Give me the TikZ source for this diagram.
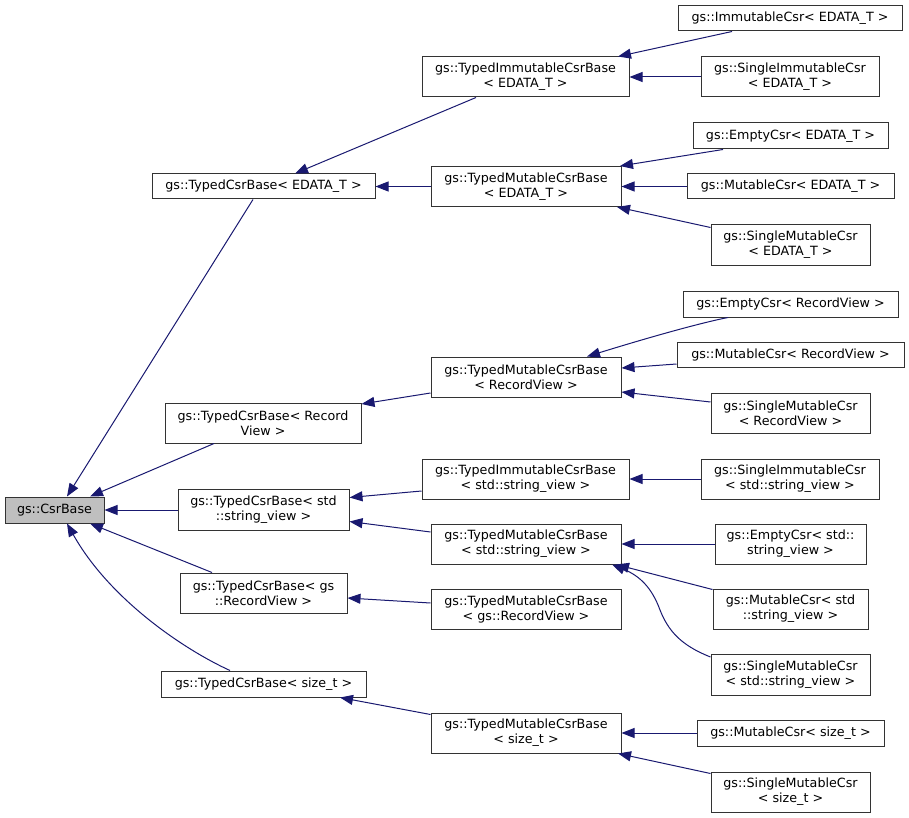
\documentclass[tikz,border=0pt]{standalone}
\usepackage{fontspec}
\setmainfont{DejaVu Sans}
\usetikzlibrary{arrows.meta}
\definecolor{edgecol}{HTML}{191970}
\definecolor{boxcol}{HTML}{333333}
\definecolor{rootfill}{HTML}{BFBFBF}
\tikzset{
  box/.style={draw=boxcol, line width=1pt, fill=white, rectangle, inner sep=0pt, align=center,
    font=\fontsize{12.7}{15}\selectfont},
  rootbox/.style={box, fill=rootfill},
  edge/.style={draw=edgecol, line width=1pt, -{Triangle[length=13pt,width=10pt]}, edgecol},
}
\begin{document}
\begin{tikzpicture}[x=1pt,y=-1pt]
\useasboundingbox (0,0) rectangle (909,818);
% column 1
\node[rootbox, minimum width=99pt, minimum height=26pt] (csr) at (54.5,510) {gs::CsrBase};
% column 2
\node[box, minimum width=223pt, minimum height=25pt] (tcbE) at (263.5,186.5) {gs::TypedCsrBase< EDATA\_T >};
\node[box, minimum width=196pt, minimum height=40pt] (tcbRV) at (263,423) {gs::TypedCsrBase< Record\\View >};
\node[box, minimum width=171pt, minimum height=41pt] (tcbSV) at (263.5,510) {gs::TypedCsrBase< std\\::string\_view >};
\node[box, minimum width=167pt, minimum height=40pt] (tcbGRV) at (263.5,593) {gs::TypedCsrBase< gs\\::RecordView >};
\node[box, minimum width=205pt, minimum height=26pt] (tcbSZ) at (263.5,684) {gs::TypedCsrBase< size\_t >};
% column 3
\node[box, minimum width=207pt, minimum height=40pt] (timE) at (525.5,77) {gs::TypedImmutableCsrBase\\< EDATA\_T >};
\node[box, minimum width=190pt, minimum height=40pt] (tmE) at (526,186.5) {gs::TypedMutableCsrBase\\< EDATA\_T >};
\node[box, minimum width=190pt, minimum height=40pt] (tmRV) at (526,377) {gs::TypedMutableCsrBase\\< RecordView >};
\node[box, minimum width=207pt, minimum height=40pt] (timSV) at (525.5,479) {gs::TypedImmutableCsrBase\\< std::string\_view >};
\node[box, minimum width=190pt, minimum height=40pt] (tmSV) at (526,544) {gs::TypedMutableCsrBase\\< std::string\_view >};
\node[box, minimum width=190pt, minimum height=40pt] (tmGRV) at (526,609) {gs::TypedMutableCsrBase\\< gs::RecordView >};
\node[box, minimum width=190pt, minimum height=40pt] (tmSZ) at (526,733) {gs::TypedMutableCsrBase\\< size\_t >};
% column 4
\node[box, minimum width=224pt, minimum height=25pt] (immE) at (790,18.5) {gs::ImmutableCsr< EDATA\_T >};
\node[box, minimum width=178pt, minimum height=40pt] (simE) at (790,77) {gs::SingleImmutableCsr\\< EDATA\_T >};
\node[box, minimum width=195pt, minimum height=26pt] (emE) at (790.5,136) {gs::EmptyCsr< EDATA\_T >};
\node[box, minimum width=207pt, minimum height=25pt] (mE) at (790.5,186.5) {gs::MutableCsr< EDATA\_T >};
\node[box, minimum width=159pt, minimum height=40pt] (smE) at (790.5,245) {gs::SingleMutableCsr\\< EDATA\_T >};
\node[box, minimum width=215pt, minimum height=26pt] (emRV) at (790.5,304) {gs::EmptyCsr< RecordView >};
\node[box, minimum width=227pt, minimum height=25pt] (mRV) at (790.5,354.5) {gs::MutableCsr< RecordView >};
\node[box, minimum width=159pt, minimum height=40pt] (smRV) at (790.5,413) {gs::SingleMutableCsr\\< RecordView >};
\node[box, minimum width=178pt, minimum height=40pt] (simSV) at (790,479) {gs::SingleImmutableCsr\\< std::string\_view >};
\node[box, minimum width=151pt, minimum height=40pt] (emSV) at (790.5,544) {gs::EmptyCsr< std::\\string\_view >};
\node[box, minimum width=155pt, minimum height=40pt] (mSV) at (790.5,609) {gs::MutableCsr< std\\::string\_view >};
\node[box, minimum width=159pt, minimum height=41pt] (smSV) at (790.5,674.5) {gs::SingleMutableCsr\\< std::string\_view >};
\node[box, minimum width=187pt, minimum height=26pt] (mSZ) at (790.5,733) {gs::MutableCsr< size\_t >};
\node[box, minimum width=159pt, minimum height=40pt] (smSZ) at (790.5,792) {gs::SingleMutableCsr\\< size\_t >};
% edges to csr
\draw[edge] ([xshift=-10.5pt]tcbE.south) -- ([xshift=12.5pt]csr.north);
\draw[edge] ([xshift=-49pt]tcbRV.south) -- ([xshift=35.5pt]csr.north);
\draw[edge] (tcbSV.west) -- (csr.east);
\draw[edge] ([xshift=-51.5pt]tcbGRV.north) -- ([xshift=35.5pt]csr.south);
\draw[edge] ([xshift=-33.5pt]tcbSZ.north) .. controls (185,650) and (110,600) .. ([xshift=12.5pt]csr.south);
% EDATA_T
\draw[edge] ([xshift=-49.5pt]timE.south) -- ([xshift=31.5pt]tcbE.north);
\draw[edge] (tmE.west) -- (tcbE.east);
\draw[edge] ([xshift=-58pt]immE.south) -- ([xshift=92.5pt]timE.north);
\draw[edge] (simE.west) -- (timE.east);
\draw[edge] ([xshift=-67.5pt]emE.south) -- ([xshift=94pt]tmE.north);
\draw[edge] (mE.west) -- (tmE.east);
\draw[edge] ([yshift=-3pt]smE.north west) -- ([xshift=91pt]tmE.south);
% RecordView
\draw[edge] ([yshift=-16pt]tmRV.west) -- ([yshift=19pt]tcbRV.east);
\draw[edge] ([xshift=-62.5pt]emRV.south) .. controls (705,322) and (660,334) .. ([xshift=61pt]tmRV.north);
\draw[edge] ([yshift=-9.5pt]mRV.west) -- ([yshift=9pt]tmRV.east);
\draw[edge] ([yshift=11pt]smRV.west) -- ([yshift=-15pt]tmRV.east);
% string_view
\draw[edge] ([yshift=-12pt]timSV.west) -- ([yshift=12.5pt]tcbSV.east);
\draw[edge] ([yshift=12pt]tmSV.west) -- ([yshift=-11.5pt]tcbSV.east);
\draw[edge] (simSV.west) -- (timSV.east);
\draw[edge] (emSV.west) -- (tmSV.east);
\draw[edge] ([yshift=-1pt]mSV.north west) -- ([xshift=90pt]tmSV.south);
\draw[edge] ([yshift=17.5pt]smSV.west) .. controls (680,645) and (668,630) .. (660,610) .. controls (652,588) and (640,576) .. ([xshift=86pt]tmSV.south);
% gs::RecordView
\draw[edge] ([yshift=6pt]tmGRV.west) -- ([yshift=-5pt]tcbGRV.east);
% size_t
\draw[edge] ([yshift=-2pt]tmSZ.north west) -- ([xshift=76.5pt]tcbSZ.south);
\draw[edge] (mSZ.west) -- (tmSZ.east);
\draw[edge] ([yshift=-2pt]smSZ.north west) -- ([xshift=92pt]tmSZ.south);
\end{tikzpicture}
\end{document}
